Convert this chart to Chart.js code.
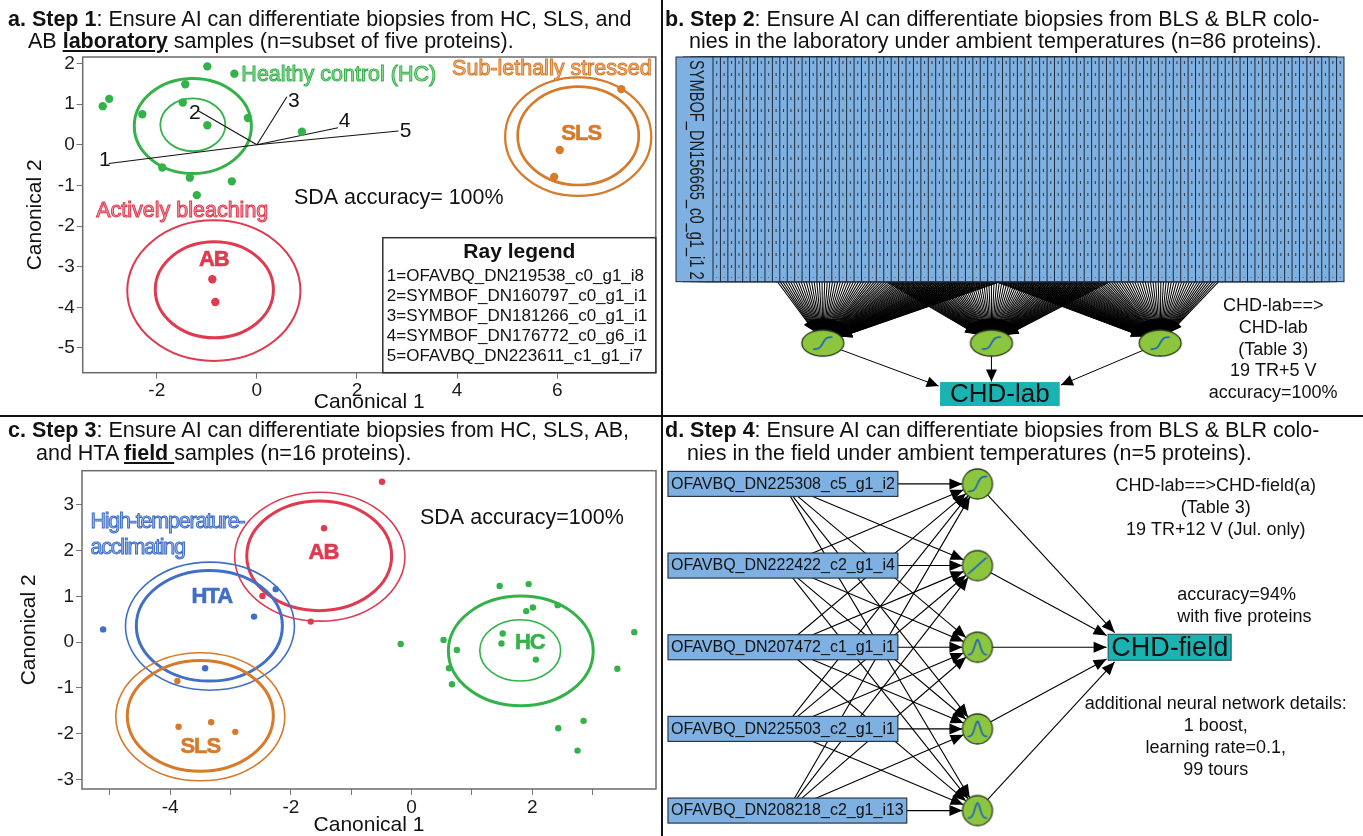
<!DOCTYPE html>
<html>
<head>
<meta charset="utf-8">
<title>Steps 1-4: AI differentiation of coral biopsies</title>
<script src="https://cdn.jsdelivr.net/npm/chart.js@4.4.1/dist/chart.umd.min.js"></script>
<style>
html,body{margin:0;padding:0;background:#fff;overflow:hidden}
body{position:relative;width:1363px;height:836px;font-family:"Liberation Sans",Arial,Helvetica,sans-serif;color:#111}
canvas{position:absolute;display:block}
.t{position:absolute;font-size:21.5px;line-height:22px;white-space:nowrap;z-index:3}
.rule{position:absolute;background:#111;z-index:4}
</style>
</head>
<body>
<canvas id="ca" width="660" height="415" style="left:0;top:0"></canvas>
<canvas id="cb" width="700" height="415" style="left:663px;top:0"></canvas>
<canvas id="cc" width="660" height="419" style="left:0;top:417px"></canvas>
<canvas id="cd" width="700" height="418" style="left:663px;top:418px"></canvas>

<div class="t" style="left:8px;top:7.5px"><b>a. Step 1</b>: Ensure AI can differentiate biopsies from HC, SLS, and</div>
<div class="t" style="left:28px;top:29.5px">AB <b><u>laboratory</u></b> samples (n=subset of five proteins).</div>
<div class="t" style="left:665px;top:7.5px"><b>b. Step 2</b>: Ensure AI can differentiate biopsies from BLS &amp; BLR colo-</div>
<div class="t" style="left:689px;top:29.5px">nies in the laboratory under ambient temperatures (n=86 proteins).</div>
<div class="t" style="left:8px;top:418.5px"><b>c. Step 3</b>: Ensure AI can differentiate biopsies from HC, SLS, AB,</div>
<div class="t" style="left:36px;top:441.5px">and HTA <b><u>field </u></b>samples (n=16 proteins).</div>
<div class="t" style="left:665px;top:418.5px"><b>d. Step 4</b>: Ensure AI can differentiate biopsies from BLS &amp; BLR colo-</div>
<div class="t" style="left:687px;top:441.5px">nies in the field under ambient temperatures (n=5 proteins).</div>

<div class="rule" style="left:661px;top:0;width:2px;height:836px"></div>
<div class="rule" style="left:0;top:415px;width:1363px;height:2px"></div>

<script>
// ======================= DATA =======================
// ---- Panel a: laboratory samples, canonical plot ----
const aXTicks = [-2, 0, 2, 4, 6];
const aYTicks = [2, 1, 0, -1, -2, -3, -4, -5];
const aXRange = [-3.48, 7.97];
const aYRange = [-5.61, 2.16];
const aHC  = [[-0.99,1.93],[-0.45,1.75],[-1.43,1.49],[-2.95,1.13],[-3.08,0.95],[-1.48,1.04],[-2.29,0.75],
              [-0.99,0.48],[-0.18,0.66],[0.90,0.32],[-1.89,-0.56],[-1.34,-0.81],[-0.50,-0.90],[-1.20,-1.24]];
const aSLS = [[7.28,1.37],[6.05,-0.13],[5.94,-0.79]];
const aAB  = [[-0.89,-3.31],[-0.83,-3.87]];
// group, centre x, centre y, radius (canonical units)
const aCircles = [['HC',-1.28,0.46,1.17],['HC',-1.28,0.49,0.65],
                  ['SLS',6.42,0.20,1.46],['SLS',6.42,0.22,1.21],
                  ['AB',-0.86,-3.59,1.73],['AB',-0.85,-3.57,1.18]];
const aRayNames = ['OFAVBQ_DN219538_c0_g1_i8','SYMBOF_DN160797_c0_g1_i1','SYMBOF_DN181266_c0_g1_i1',
                   'SYMBOF_DN176772_c0_g6_i1','OFAVBQ_DN223611_c1_g1_i7'];
const aRayEnds    = [[-2.96,-0.46],[-1.19,0.85],[0.60,1.18],[1.62,0.42],[2.83,0.34]];
const aRayLabelAt = [[-3.04,-0.38],[-1.24,0.77],[0.74,1.06],[1.75,0.59],[2.97,0.33]];
const aGroupNames = [['Healthy control (HC)','HC',-0.31,1.71],['Sub-lethally stressed','SLS',3.90,1.86],
                     ['Actively bleaching','AB',-3.21,-1.63]];
const aGroupCodes = [['AB','AB',-0.86,-2.84],['SLS','SLS',6.48,0.26]];
const aAccuracy = ['SDA accuracy= 100%', 0.74, -1.31];

// ---- Panel c: field samples, canonical plot ----
const cXMajor = [-4, -2, 0, 2];
const cXMinor = [-5, -3, -1, 1, 3];
const cYTicks = [3, 2, 1, 0, -1, -2, -3];
const cXRange = [-5.46, 4.05];
const cYRange = [-3.21, 3.75];
const cAB  = [[-0.49,3.51],[-1.45,2.49],[-2.47,1.01],[-1.67,0.45]];
const cHTA = [[-5.11,0.28],[-2.25,1.16],[-2.61,0.56],[-3.42,-0.57]];
const cSLS = [[-3.88,-0.85],[-3.86,-1.85],[-3.32,-1.75],[-2.92,-1.96]];
const cHC  = [[1.46,1.23],[1.94,1.27],[2.42,0.81],[2.01,0.76],[1.90,0.68],[3.69,0.22],[-0.18,-0.04],
              [0.53,0.05],[1.51,0.19],[1.49,-0.03],[0.75,-0.17],[2.06,-0.38],[0.62,-0.57],[3.41,-0.58],
              [0.67,-0.92],[2.85,-1.72],[2.43,-1.88],[2.75,-2.37]];
const cCircles = [['AB',-1.52,1.87,1.41],['AB',-1.53,1.89,1.20],['HTA',-3.34,0.35,1.40],['HTA',-3.35,0.36,1.21],
                  ['SLS',-3.50,-1.63,1.40],['SLS',-3.50,-1.61,1.21],['HC',1.81,-0.19,1.20],['HC',1.80,-0.18,0.67]];
const cGroupNames = [['High-temperature-','HTA',-5.32,2.63],['acclimating','HTA',-5.32,2.05]];
const cGroupCodes = [['AB','AB',-1.46,1.96],['HTA','HTA',-3.31,0.99],['SLS','SLS',-3.50,-2.29],['HC','HC',1.96,-0.01]];
const cAccuracy = ['SDA accuracy=100%', 0.14, 2.71];

// ---- Panel b: laboratory neural network (86 inputs -> 3 hidden -> CHD-lab) ----
const bInputCount = 86;
const bFirstInput = 'SYMBOF_DN156665_c0_g1_i1 2';
const bHiddenX = [-1, 0, 1];
const bHiddenAct = ['sigmoid', 'sigmoid', 'sigmoid'];
const bLayerY = { inputBottom: 0, hidden: 1, output: 1.83 };
const bOutput = { name: 'CHD-lab', x: 0.05 };
const bNotes = ['CHD-lab==>', 'CHD-lab', '(Table 3)', '19 TR+5 V', 'accuracy=100%'];
const bNoteAt = [1.67, 0.40];

// ---- Panel d: field neural network (5 inputs -> 5 hidden -> CHD-field) ----
const dInputs = ['OFAVBQ_DN225308_c5_g1_i2','OFAVBQ_DN222422_c2_g1_i4','OFAVBQ_DN207472_c1_g1_i1',
                 'OFAVBQ_DN225503_c2_g1_i1','OFAVBQ_DN208218_c2_g1_i13'];
const dHiddenAct = ['sigmoid', 'linear', 'gauss', 'gauss', 'gauss'];
const dLayerX = { hidden: 1, output: 2 };
const dOutput = { name: 'CHD-field', row: 2 };
const dNotesTop = ['CHD-lab==>CHD-field(a)', '(Table 3)', '19 TR+12 V (Jul. only)'];
const dNotesTopAt = [2.24, 0.03];
const dNotesMid = ['accuracy=94%', 'with five proteins'];
const dNotesMidAt = [2.04, 1.36];
const dNotesBot = ['additional neural network details:', '1 boost,', 'learning rate=0.1,', '99 tours'];
const dNotesBotAt = [2.24, 2.70];

// ======================= STYLE =======================
const FONT = '"Liberation Sans", Arial, sans-serif';
const COL  = { HC:'#34b24a', SLS:'#d67a2b', AB:'#de3a50', HTA:'#3f6fc6' };
const PALE = { HC:'#9fdca7', SLS:'#f0bd8f', AB:'#f2a0ac', HTA:'#a6bdea' };
const aCircleWidths = [3, 1.8, 2.3, 2.7, 2, 3];
const cCircleWidths = [1.6, 3, 1.6, 3, 1.6, 3, 3, 1.6];

// ======================= HELPERS =======================
function drawText(ctx, s, x, y, o) {
  ctx.save();
  ctx.font = o.font;
  ctx.textAlign = o.align || 'left';
  ctx.textBaseline = 'middle';
  if (o.ls) ctx.letterSpacing = o.ls;
  if (o.fill) { ctx.fillStyle = o.fill; ctx.fillText(s, x, y); }
  if (o.stroke) { ctx.strokeStyle = o.stroke; ctx.lineWidth = o.lw || 1; ctx.strokeText(s, x, y); }
  ctx.restore();
}
function arrowHead(ctx, x1, y1, x2, y2, len, hw) {
  const a = Math.atan2(y2 - y1, x2 - x1), c = Math.cos(a), s = Math.sin(a);
  ctx.beginPath();
  ctx.moveTo(x2, y2);
  ctx.lineTo(x2 - len * c + hw * s, y2 - len * s - hw * c);
  ctx.lineTo(x2 - len * c - hw * s, y2 - len * s + hw * c);
  ctx.closePath();
  ctx.fill();
}
function arrowToEllipse(ctx, x1, y1, x2, y2, rx, ry, len, hw) {
  const dx = x2 - x1, dy = y2 - y1;
  const k = 1 / Math.sqrt((dx / rx) ** 2 + (dy / ry) ** 2);
  const tx = x2 - dx * k, ty = y2 - dy * k;
  ctx.beginPath(); ctx.moveTo(x1, y1); ctx.lineTo(tx, ty); ctx.stroke();
  arrowHead(ctx, x1, y1, tx, ty, len, hw);
}
function arrowToBox(ctx, nx, ny, b, inset, len, hw) {
  const T = { x: Math.min(Math.max(nx, b.l + inset), b.l + b.w - inset), y: b.t + b.h / 2 };
  const dx = T.x - nx, dy = T.y - ny;
  let tx = -Infinity, ty = -Infinity;
  if (dx > 0) tx = (b.l - nx) / dx; else if (dx < 0) tx = (b.l + b.w - nx) / dx;
  if (dy > 0) ty = (b.t - ny) / dy; else if (dy < 0) ty = (b.t + b.h - ny) / dy;
  const t = Math.max(tx, ty, 0) - 0.01;
  const ex = nx + dx * t, ey = ny + dy * t;
  ctx.beginPath(); ctx.moveTo(nx, ny); ctx.lineTo(ex, ey); ctx.stroke();
  arrowHead(ctx, nx, ny, ex, ey, len, hw);
}
function nodeGlyph(rx, ry, kind, w, h) {
  const c = document.createElement('canvas');
  const W = Math.ceil(2 * rx + 4), H = Math.ceil(2 * ry + 4);
  c.width = W; c.height = H;
  const g = c.getContext('2d');
  const cx = W / 2, cy = H / 2;
  g.beginPath(); g.ellipse(cx, cy, rx, ry, 0, 0, 2 * Math.PI);
  g.fillStyle = '#8cc63f'; g.fill();
  g.lineWidth = 1.3; g.strokeStyle = '#2c3a1c'; g.stroke();
  g.strokeStyle = '#1d5cc4'; g.lineWidth = 1.6; g.lineCap = 'round';
  g.beginPath();
  for (let i = 0; i <= 40; i++) {
    const t = -1 + i / 20, X = cx + t * w;
    let Y;
    if (kind === 'sigmoid') Y = cy - h * Math.tanh(2.6 * t) / Math.tanh(2.6);
    else if (kind === 'linear') Y = cy - h * t;
    else Y = cy + h - 2 * h * Math.exp(-(t * t) / (2 * 0.09));
    if (i) g.lineTo(X, Y); else g.moveTo(X, Y);
  }
  g.stroke();
  return c;
}
const pts = arr => arr.map(p => ({ x: p[0], y: p[1] }));

// plugin for the two canonical plots
function canonPlugin(id, circles, widths, names, nameLS, codes, acc, rays) {
  return {
    id: 'canon' + id,
    beforeDatasetsDraw(chart) {
      const { ctx, chartArea: ca, scales: { x, y } } = chart;
      ctx.save();
      ctx.strokeStyle = '#6b6b6b'; ctx.lineWidth = 1.5;
      ctx.strokeRect(ca.left, ca.top, ca.width, ca.height);
      ctx.beginPath(); ctx.rect(ca.left, ca.top, ca.width, ca.height); ctx.clip();
      circles.forEach((c, i) => {
        const px = x.getPixelForValue(c[1]), py = y.getPixelForValue(c[2]);
        const rx = Math.abs(x.getPixelForValue(c[1] + c[3]) - px);
        const ry = Math.abs(y.getPixelForValue(c[2] + c[3]) - py);
        ctx.beginPath(); ctx.ellipse(px, py, rx, ry, 0, 0, 2 * Math.PI);
        ctx.strokeStyle = COL[c[0]]; ctx.lineWidth = widths[i]; ctx.stroke();
      });
      ctx.restore();
    },
    afterDatasetsDraw(chart) {
      const { ctx, chartArea: ca, scales: { x, y } } = chart;
      names.forEach(n => drawText(ctx, n[0], x.getPixelForValue(n[2]), y.getPixelForValue(n[3]),
        { font: '21.5px ' + FONT, fill: PALE[n[1]], stroke: COL[n[1]], lw: 1, ls: nameLS }));
      codes.forEach(n => drawText(ctx, n[0], x.getPixelForValue(n[2]), y.getPixelForValue(n[3]),
        { font: 'bold 22px ' + FONT, fill: COL[n[1]], stroke: COL[n[1]], lw: 0.6, align: 'center', ls: '-1px' }));
      drawText(ctx, acc[0], x.getPixelForValue(acc[1]), y.getPixelForValue(acc[2]),
        { font: '21.5px ' + FONT, fill: '#111' });
      if (rays) {
        aRayLabelAt.forEach((p, i) => drawText(ctx, String(i + 1), x.getPixelForValue(p[0]), y.getPixelForValue(p[1]),
          { font: '21px ' + FONT, fill: '#111', align: 'center' }));
        // Ray legend box, anchored to the bottom-right corner of the plot
        const w = 273, h = 135, l = ca.right - w, t = ca.bottom - h;
        ctx.save();
        ctx.fillStyle = '#fff'; ctx.fillRect(l, t, w, h);
        ctx.strokeStyle = '#333'; ctx.lineWidth = 1.5; ctx.strokeRect(l, t, w, h);
        ctx.restore();
        drawText(ctx, 'Ray legend', l + w / 2, t + 15, { font: 'bold 21px ' + FONT, fill: '#111', align: 'center' });
        aRayNames.forEach((nm, i) => drawText(ctx, (i + 1) + '=' + nm, l + 4, t + 39 + i * 20,
          { font: '17px ' + FONT, fill: '#111' }));
      }
    }
  };
}

function axisX(range, tickVals, labelFn, fitH, titlePad, titleLH) {
  return {
    type: 'linear', position: 'bottom', min: range[0], max: range[1],
    afterBuildTicks: s => { s.ticks = tickVals.map(v => ({ value: v })); },
    afterFit: s => { s.height = fitH; },
    border: { display: false },
    grid: { drawOnChartArea: false, drawTicks: true, tickLength: 6, color: '#777', lineWidth: 1 },
    ticks: { autoSkip: false, maxRotation: 0, padding: 1, color: '#1a1a1a', font: { family: FONT, size: 19 }, callback: labelFn },
    title: { display: true, text: 'Canonical 1', color: '#111', font: { family: FONT, size: 21, lineHeight: titleLH }, padding: { top: 0, bottom: titlePad } }
  };
}
function axisY(range, tickVals, fitW, titlePad) {
  return {
    type: 'linear', position: 'left', min: range[0], max: range[1],
    afterBuildTicks: s => { s.ticks = tickVals.map(v => ({ value: v })); },
    afterFit: s => { s.width = fitW; },
    border: { display: false },
    grid: { drawOnChartArea: false, drawTicks: true, tickLength: 6, color: '#777', lineWidth: 1 },
    ticks: { autoSkip: false, padding: 2, color: '#1a1a1a', font: { family: FONT, size: 19 }, callback: v => String(v) },
    title: { display: true, text: 'Canonical 2', color: '#111', font: { family: FONT, size: 21 }, padding: { top: titlePad, bottom: 0 } }
  };
}
const baseOpts = {
  responsive: false, animation: false, events: [],
  plugins: { legend: { display: false }, tooltip: { enabled: false } }
};

// ======================= PANEL a =======================
new Chart(document.getElementById('ca'), {
  type: 'scatter',
  data: { datasets: [
    { label: 'HC', data: pts(aHC), backgroundColor: COL.HC, borderWidth: 0, pointRadius: 4.2 },
    { label: 'SLS', data: pts(aSLS), backgroundColor: COL.SLS, borderWidth: 0, pointRadius: 4.2 },
    { label: 'AB', data: pts(aAB), backgroundColor: COL.AB, borderWidth: 0, pointRadius: 4.2 },
    ...aRayEnds.map((e, i) => ({ label: 'ray ' + (i + 1), data: [{ x: 0, y: 0 }, { x: e[0], y: e[1] }],
      showLine: true, borderColor: '#111', borderWidth: 1.1, pointRadius: 0, fill: false }))
  ] },
  options: Object.assign({}, baseOpts, {
    layout: { padding: { left: 8, top: 57, right: 2, bottom: 0 } },
    scales: { x: axisX(aXRange, aXTicks, v => String(v), 42.3, 0, 1.2), y: axisY(aYRange, aYTicks, 74.7, 14.4) }
  }),
  plugins: [canonPlugin('a', aCircles, aCircleWidths, aGroupNames, '0px', aGroupCodes, aAccuracy, true)]
});

// ======================= PANEL c =======================
new Chart(document.getElementById('cc'), {
  type: 'scatter',
  data: { datasets: [
    { label: 'AB', data: pts(cAB), backgroundColor: COL.AB, borderWidth: 0, pointRadius: 3.2 },
    { label: 'HTA', data: pts(cHTA), backgroundColor: COL.HTA, borderWidth: 0, pointRadius: 3.2 },
    { label: 'SLS', data: pts(cSLS), backgroundColor: COL.SLS, borderWidth: 0, pointRadius: 3.2 },
    { label: 'HC', data: pts(cHC), backgroundColor: COL.HC, borderWidth: 0, pointRadius: 3.2 }
  ] },
  options: Object.assign({}, baseOpts, {
    layout: { padding: { left: 5, top: 53.7, right: 2, bottom: 0 } },
    scales: {
      x: axisX(cXRange, cXMajor.concat(cXMinor).sort((a, b) => a - b),
               v => (cXMajor.includes(v) ? String(v) : ''), 47, 0, 1.0),
      y: axisY(cYRange, cYTicks, 77, 11.9)
    }
  }),
  plugins: [canonPlugin('c', cCircles, cCircleWidths, cGroupNames, '-1.2px', cGroupCodes, cAccuracy, false)]
});

// ======================= PANEL b =======================
const bGlyphs = bHiddenAct.map(k => nodeGlyph(21, 13, k, 9, 6));
const bPlugin = {
  id: 'netB',
  beforeDatasetsDraw(chart) {
    const { ctx, chartArea: ca, scales: { x, y } } = chart;
    const bw = 37, top = ca.top, bottom = y.getPixelForValue(bLayerY.inputBottom);
    const step = (ca.width - bw) / (bInputCount - 1);
    const boxes = Array.from({ length: bInputCount }, (_, i) => ({ l: ca.left + i * step }));
    const hy = y.getPixelForValue(bLayerY.hidden);
    const nodes = bHiddenX.map(v => ({ x: x.getPixelForValue(v), y: hy }));
    ctx.save();
    // input -> hidden connections
    ctx.strokeStyle = '#000'; ctx.fillStyle = '#000'; ctx.lineWidth = 1.05;
    const cy = (top + bottom) / 2;
    boxes.forEach(b => nodes.forEach(n => arrowToEllipse(ctx, b.l + bw / 2, cy, n.x, n.y, 21, 13, 11, 4.5)));
    // output box
    ctx.font = '26px ' + FONT;
    const ow = ctx.measureText(bOutput.name).width + 20, oh = 24;
    const ocx = x.getPixelForValue(bOutput.x), ocy = y.getPixelForValue(bLayerY.output);
    const ob = { l: ocx - ow / 2, t: ocy - oh / 2, w: ow, h: oh };
    ctx.lineWidth = 1;
    nodes.forEach(n => arrowToBox(ctx, n.x, n.y, ob, 20, 12, 5.5));
    // input boxes (first one on top)
    for (let i = bInputCount - 1; i >= 0; i--) {
      const b = boxes[i];
      ctx.fillStyle = '#7eb1e2'; ctx.fillRect(b.l, top, bw, bottom - top);
      ctx.strokeStyle = '#1f2b3a'; ctx.lineWidth = 1; ctx.strokeRect(b.l, top, bw, bottom - top);
      if (i > 0) {
        ctx.save(); ctx.setLineDash([3, 9]); ctx.strokeStyle = '#2b3540'; ctx.lineWidth = 1;
        ctx.beginPath(); ctx.moveTo(b.l + bw - step / 2, top + 4); ctx.lineTo(b.l + bw - step / 2, bottom - 4); ctx.stroke();
        ctx.restore();
      }
    }
    // label of the first input, rotated
    ctx.save();
    ctx.font = '21px ' + FONT;
    const tw = ctx.measureText(bFirstInput).width, len = bottom - top - 5;
    ctx.translate(ca.left + bw / 2 + 1, top + 3);
    ctx.rotate(Math.PI / 2);
    ctx.scale(len / tw, 1);
    ctx.fillStyle = '#1a1a1a'; ctx.textBaseline = 'middle';
    ctx.fillText(bFirstInput, 0, 0);
    ctx.restore();
    // output box
    ctx.fillStyle = '#1bb3b1'; ctx.fillRect(ob.l, ob.t, ob.w, ob.h);
    drawText(ctx, bOutput.name, ocx, ocy + 1, { font: '26px ' + FONT, fill: '#111', align: 'center' });
    ctx.restore();
  },
  afterDatasetsDraw(chart) {
    const { ctx, scales: { x, y } } = chart;
    const nx = x.getPixelForValue(bNoteAt[0]), ny = y.getPixelForValue(bNoteAt[1]);
    bNotes.forEach((s, i) => drawText(ctx, s, nx, ny + i * 21.7, { font: '18px ' + FONT, fill: '#111', align: 'center' }));
  }
};
new Chart(document.getElementById('cb'), {
  type: 'scatter',
  data: { datasets: [{ label: 'hidden', data: bHiddenX.map(v => ({ x: v, y: bLayerY.hidden })),
    pointStyle: bGlyphs, pointRadius: 5, borderWidth: 0 }] },
  options: Object.assign({}, baseOpts, {
    layout: { padding: { left: 13, top: 57, right: 19, bottom: 0 } },
    scales: {
      x: { type: 'linear', display: false, min: -1.87, max: 2.09 },
      y: { type: 'linear', display: false, min: -3.66, max: 2.09, reverse: true }
    }
  }),
  plugins: [bPlugin]
});

// ======================= PANEL d =======================
const dGlyphs = dHiddenAct.map(k => nodeGlyph(15, 15, k, 9, k === 'linear' ? 8 : 7.5));
const dPlugin = {
  id: 'netD',
  beforeDatasetsDraw(chart) {
    const { ctx, chartArea: ca, scales: { x, y } } = chart;
    ctx.save();
    ctx.font = '16px ' + FONT;
    const boxes = dInputs.map((nm, i) => {
      const w = ctx.measureText(nm).width + 6, cy = y.getPixelForValue(i);
      return { nm, l: ca.left, t: cy - 12.5, w, h: 25, cx: ca.left + w / 2, cy };
    });
    const hx = x.getPixelForValue(dLayerX.hidden);
    const nodes = dHiddenAct.map((a, j) => ({ x: hx, y: y.getPixelForValue(j) }));
    ctx.font = '27px ' + FONT;
    const ow = ctx.measureText(dOutput.name).width + 6, oh = 26;
    const ocx = x.getPixelForValue(dLayerX.output), ocy = y.getPixelForValue(dOutput.row);
    const ob = { l: ocx - ow / 2, t: ocy - oh / 2, w: ow, h: oh };
    ctx.strokeStyle = '#000'; ctx.fillStyle = '#000'; ctx.lineWidth = 1.1;
    boxes.forEach(b => nodes.forEach(n => arrowToEllipse(ctx, b.cx, b.cy, n.x, n.y, 15, 15, 13, 5.5)));
    nodes.forEach(n => arrowToBox(ctx, n.x, n.y, ob, 20, 13, 5.5));
    boxes.forEach(b => {
      ctx.fillStyle = '#7eb1e2'; ctx.fillRect(b.l, b.t, b.w, b.h);
      ctx.strokeStyle = '#26374a'; ctx.lineWidth = 1.2; ctx.strokeRect(b.l, b.t, b.w, b.h);
      drawText(ctx, b.nm, b.l + 3, b.cy + 0.5, { font: '16px ' + FONT, fill: '#111' });
    });
    ctx.fillStyle = '#1bb3b1'; ctx.fillRect(ob.l, ob.t, ob.w, ob.h);
    ctx.strokeStyle = '#1e4f4f'; ctx.lineWidth = 1; ctx.strokeRect(ob.l, ob.t, ob.w, ob.h);
    drawText(ctx, dOutput.name, ocx, ocy + 1, { font: '27px ' + FONT, fill: '#111', align: 'center' });
    ctx.restore();
  },
  afterDatasetsDraw(chart) {
    const { ctx, scales: { x, y } } = chart;
    const put = (lines, at, align, gap) => {
      const px = x.getPixelForValue(at[0]), py = y.getPixelForValue(at[1]);
      lines.forEach((s, i) => drawText(ctx, s, px, py + i * gap, { font: '18px ' + FONT, fill: '#111', align }));
    };
    put(dNotesTop, dNotesTopAt, 'center', 21.7);
    put(dNotesMid, dNotesMidAt, 'left', 21.7);
    put(dNotesBot, dNotesBotAt, 'center', 21.9);
  }
};
new Chart(document.getElementById('cd'), {
  type: 'scatter',
  data: { datasets: [{ label: 'hidden', data: dHiddenAct.map((a, j) => ({ x: dLayerX.hidden, y: j })),
    pointStyle: dGlyphs, pointRadius: 5, borderWidth: 0 }] },
  options: Object.assign({}, baseOpts, {
    layout: { padding: { left: 2, top: 41.4, right: 1, bottom: 3 } },
    scales: {
      x: { type: 'linear', display: false, min: -0.61, max: 2.98 },
      y: { type: 'linear', display: false, min: -0.3, max: 4.25, reverse: true }
    }
  }),
  plugins: [dPlugin]
});
</script>
</body>
</html>
